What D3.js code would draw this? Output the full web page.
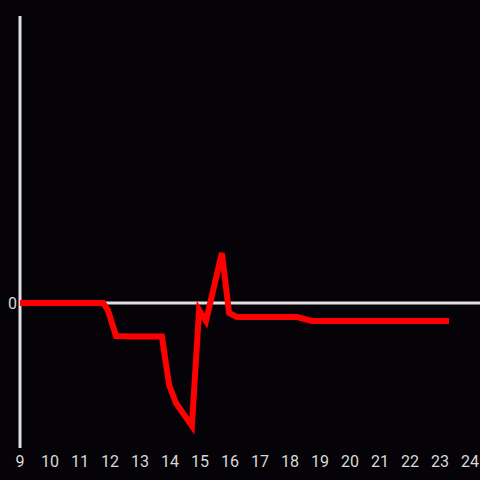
<!DOCTYPE html>
<html>
<head>
<meta charset="utf-8">
<script src="https://cdn.jsdelivr.net/npm/d3@7"></script>
<style>
  html, body { margin: 0; padding: 0; background: #050307; }
</style>
</head>
<body>
<svg id="chart"></svg>
<script>
const hours = [9, 11.77, 11.93, 12.2, 12.67, 13.73, 13.97, 14.2, 14.73, 14.97, 15.2, 15.73, 15.97, 16.23, 18.23, 18.73, 23.3];
const values = [0, 0, -0.07, -0.33, -0.335, -0.335, -0.82, -1.0, -1.23, -0.07, -0.18, 0.5, -0.1, -0.14, -0.14, -0.18, -0.18];
const xTicks = d3.range(9, 25);
const yTicks = [0];

const width = 480;
const height = 480;

const svg = d3.select("#chart")
  .attr("width", width)
  .attr("height", height)
  .style("display", "block")
  .style("background", "#050307")
  .style("font-family", "Roboto, sans-serif");

const x = d3.scaleLinear().domain([9, 24]).range([20, 470]);
const y = d3.scaleLinear().domain([-1.45, 2.87]).range([448, 16]);

// zero line
svg.append("line")
  .attr("x1", x(9)).attr("x2", width)
  .attr("y1", y(0)).attr("y2", y(0))
  .attr("stroke", "#e0e0e0")
  .attr("stroke-width", 3);

// y axis line
svg.append("line")
  .attr("x1", x(9)).attr("x2", x(9))
  .attr("y1", y(2.87)).attr("y2", y(-1.45))
  .attr("stroke", "#e0e0e0")
  .attr("stroke-width", 3);

svg.append("g")
  .selectAll("text")
  .data(xTicks)
  .join("text")
  .attr("x", (d) => x(d))
  .attr("y", 466.5)
  .attr("text-anchor", "middle")
  .attr("fill", "#d8d8d8")
  .attr("font-size", 16)
  .text((d) => d);

svg.append("g")
  .selectAll("text")
  .data(yTicks)
  .join("text")
  .attr("x", 17)
  .attr("y", y(0))
  .attr("dy", "0.36em")
  .attr("text-anchor", "end")
  .attr("fill", "#d8d8d8")
  .attr("font-size", 16)
  .text((d) => d);

const line = d3.line()
  .x((d, i) => x(hours[i]))
  .y((d) => y(d));

svg.append("path")
  .datum(values)
  .attr("fill", "none")
  .attr("stroke", "#ff0000")
  .attr("stroke-width", 6)
  .attr("d", line);
</script>
</body>
</html>
